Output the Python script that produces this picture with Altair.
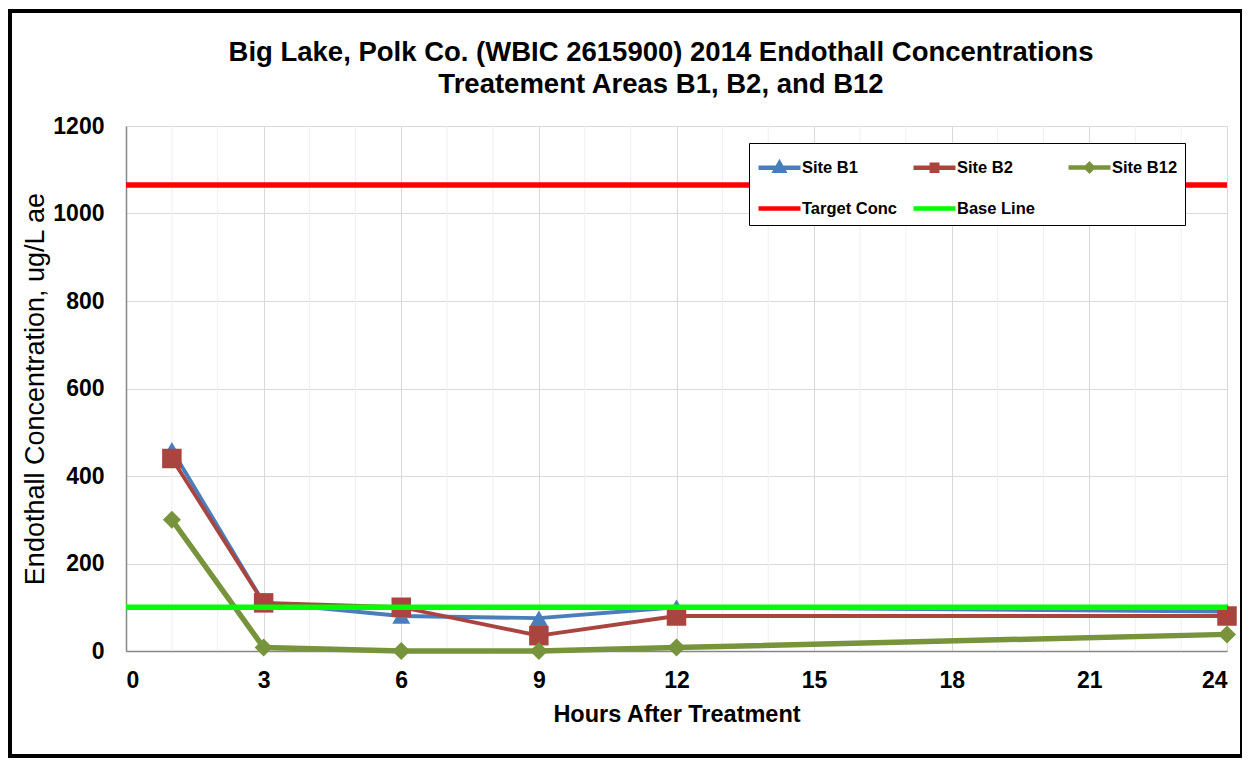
import altair as alt
import pandas as pd

# ---- data ----
hours = [1, 3, 6, 9, 12, 24]
site_b1 = [460, 110, 80, 75, 100, 90]
site_b2 = [440, 110, 100, 35, 80, 80]
site_b12 = [300, 8, 0, 0, 8, 38]
target_conc = 1065
base_line = 100
ref_hours = [0, 24]

x_ticks = [0, 3, 6, 9, 12, 15, 18, 21, 24]
x_minor = list(range(0, 25))
y_ticks = [0, 200, 400, 600, 800, 1000, 1200]

series_names = ["Site B1", "Site B2", "Site B12", "Target Conc", "Base Line"]
series_colors = ["#4A7EBB", "#A9443F", "#77933C", "#FF0000", "#00FF00"]
site_shapes = ["triangle-up", "square", "diamond"]
site_sizes = [324, 380, 324]
line_widths = [3.8, 3.8, 5.5, 5.5, 5.5]

title_lines = ["Big Lake, Polk Co. (WBIC 2615900) 2014 Endothall Concentrations",
               "Treatement Areas B1, B2, and B12"]
x_title = "Hours After Treatment"
y_title = "Endothall Concentration, ug/L ae"

FONT = "Liberation Sans, Arial, sans-serif"
W, H = 1101, 525
TOTAL_H = 752

# ---- tables ----
rows = []
for name, vals in zip(series_names[:3], [site_b1, site_b2, site_b12]):
    for h, v in zip(hours, vals):
        rows.append({"hour": h, "value": v, "series": name})
for name, v in [("Target Conc", target_conc), ("Base Line", base_line)]:
    for h in ref_hours:
        rows.append({"hour": h, "value": v, "series": name})
df = pd.DataFrame(rows)

df_minor = pd.DataFrame({"hour": [h for h in x_minor if h % 3 != 0]})
df_one = pd.DataFrame({"k": [0]})
df_title = pd.DataFrame({"t": ["\n".join(title_lines)]})

# legend symbols: line with marker (size 900 -> 1 unit = 15 px), line from -1 to 1.8
legend_paths = [
    "M-1,0H1.8M0.4,-0.3L0.68,0.2L0.12,0.2Z",
    "M-1,0H1.8M0.22,-0.2H0.58V0.2H0.22Z",
    "M-1,0H1.8M0.4,-0.22L0.62,0L0.4,0.22L0.18,0Z",
    "M-1,0H1.8",
    "M-1,0H1.8",
]

x_axis = alt.Axis(values=x_ticks, grid=True, gridColor="#D9D9D9", gridWidth=1,
                  ticks=False, domainColor="#868686", domainWidth=1.5,
                  labelFont=FONT, labelFontSize=23, labelFontWeight="bold",
                  labelColor="black", labelPadding=18,
                  titleFont=FONT, titleFontSize=23.5, titleFontWeight="bold",
                  titleColor="black", titlePadding=10)
y_axis = alt.Axis(values=y_ticks, format="d", grid=True, gridColor="#D9D9D9", gridWidth=1,
                  ticks=False, domainColor="#868686", domainWidth=1.5,
                  labelFont=FONT, labelFontSize=23, labelFontWeight="bold",
                  labelColor="black", labelPadding=22,
                  titleFont=FONT, titleFontSize=27, titleFontWeight="normal",
                  titleColor="black", titlePadding=3)

x_enc = alt.X("hour:Q", scale=alt.Scale(domain=[0, 24], nice=False), axis=x_axis, title=x_title)
y_enc = alt.Y("value:Q", scale=alt.Scale(domain=[0, 1200], nice=False), axis=y_axis, title=y_title)

legend = alt.Legend(
    title=None, orient="none", legendX=623, legendY=17, direction="horizontal",
    columns=3, gridAlign="all", columnPadding=6, rowPadding=11,
    padding=7, strokeColor="black", fillColor="white",
    labelFont=FONT, labelFontSize=16.5, labelFontWeight="bold", labelColor="black",
    labelOffset=11, symbolSize=900, symbolStrokeWidth=4.5, labelLimit=300,
)

base = alt.Chart(df)

layers = [alt.Chart(df_minor).mark_rule(color="#EFEFEF", strokeWidth=1).encode(x=x_enc)]

# one line + markers per site, drawn series by series
for name, col, shp, sz, lw in zip(series_names[:3], series_colors[:3], site_shapes, site_sizes, line_widths[:3]):
    sub = base.transform_filter(alt.datum.series == name)
    layers.append(sub.mark_line(color=col, strokeWidth=lw, strokeJoin="round").encode(x=x_enc, y=y_enc, order="hour:Q"))
    layers.append(sub.mark_point(color=col, shape=shp, size=sz, filled=True, opacity=1).encode(x=x_enc, y=y_enc))

# reference lines
for name, col, lw in zip(series_names[3:], series_colors[3:], line_widths[3:]):
    sub = base.transform_filter(alt.datum.series == name)
    layers.append(sub.mark_line(color=col, strokeWidth=lw, strokeCap="butt").encode(x=x_enc, y=y_enc))

# legend carrier: no rows pass, only the scales (and so the legend) remain
legend_layer = base.transform_filter("false").mark_point(filled=True, size=900, opacity=1).encode(
    x=x_enc, y=y_enc,
    color=alt.Color("series:N", scale=alt.Scale(domain=series_names, range=series_colors), legend=legend),
    stroke=alt.Stroke("series:N", scale=alt.Scale(domain=series_names, range=series_colors), legend=legend),
    shape=alt.Shape("series:N", scale=alt.Scale(domain=series_names, range=legend_paths), legend=legend),
)
layers.append(legend_layer)

# chart title (two lines)
layers.append(alt.Chart(df_title).mark_text(
    font=FONT, fontSize=27.5, fontWeight="bold", color="black", align="center",
    baseline="alphabetic", lineBreak="\n", lineHeight=32,
).encode(text="t:N", x=alt.value(535), y=alt.value(-65)))

# outer frame of the figure (page decoration)
BOT = TOTAL_H - 118 - 4
layers += [
    alt.Chart(df_one).mark_rule(color="black", strokeWidth=4).encode(
        x=alt.value(-116), y=alt.value(-117), y2=alt.value(BOT + 2)),
    alt.Chart(df_one).mark_rule(color="black", strokeWidth=4).encode(
        x=alt.value(-118), x2=alt.value(1116), y=alt.value(-115)),
    alt.Chart(df_one).mark_rule(color="black", strokeWidth=4).encode(
        x=alt.value(-118), x2=alt.value(1116), y=alt.value(BOT)),
    alt.Chart(df_one).mark_rule(color="black", strokeWidth=2).encode(
        x=alt.value(1115), y=alt.value(-117), y2=alt.value(BOT + 2)),
]

chart = alt.layer(*layers).properties(
    width=W, height=H,
    autosize=alt.AutoSizeParams(type="none"),
    padding={"left": 118, "top": 118, "right": 16, "bottom": TOTAL_H - 118 - H},
).configure_view(stroke="black", strokeWidth=1).configure(background="white")

chart.save("out.html", embed_options={"renderer": "svg", "actions": False})
